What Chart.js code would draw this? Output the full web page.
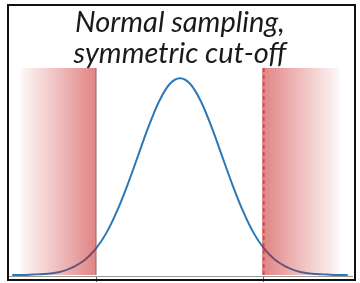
<!DOCTYPE html>
<html>
<head>
<meta charset="utf-8">
<script src="https://cdn.jsdelivr.net/npm/chart.js@4"></script>
<style>
    html, body { margin: 0; padding: 0; background: #fff; }
    #chart { display: block; }
</style>
</head>
<body>
<canvas id="chart" width="360" height="283"></canvas>
<script>
// Datos
const titleLines = ["Normal sampling,", "symmetric cut-off"];
const xValues = [-4, -3.75, -3.5, -3.25, -3, -2.75, -2.5, -2.25, -2, -1.75, -1.5, -1.25, -1, -0.75, -0.5, -0.25,
    0, 0.25, 0.5, 0.75, 1, 1.25, 1.5, 1.75, 2, 2.25, 2.5, 2.75, 3, 3.25, 3.5, 3.75, 4];
const density = [0.000, 0.000, 0.001, 0.002, 0.004, 0.009, 0.018, 0.032, 0.054, 0.086, 0.130, 0.183, 0.242, 0.301, 0.352, 0.387,
    0.399, 0.387, 0.352, 0.301, 0.242, 0.183, 0.130, 0.086, 0.054, 0.032, 0.018, 0.009, 0.004, 0.002, 0.001, 0.000, 0.000];
const cutoffs = [-2, 2];
const leftBand = [-3.8, -2];
const rightBand = [1.95, 3.8];
const bandTop = 0.42;

const RED_SOLID = "rgba(200, 30, 30, 0.55)";
const RED_CLEAR = "rgba(200, 30, 30, 0.03)";

// Degradado horizontal: casi transparente en "from", rojo en "to"
function bandGradient(ctx, from, to) {
    const chart = ctx.chart;
    const x = chart.scales && chart.scales.x;
    if (!chart.chartArea || !x) return RED_SOLID;
    const g = chart.ctx.createLinearGradient(x.getPixelForValue(from), 0, x.getPixelForValue(to), 0);
    g.addColorStop(0, RED_CLEAR);
    g.addColorStop(1, RED_SOLID);
    return g;
}

const framePlugin = {
    id: "frame",
    afterDraw(chart) {
        const c = chart.ctx;
        c.save();
        // Título superpuesto al área del gráfico
        c.fillStyle = "#1a1a1a";
        c.font = "italic 29px Lato";
        c.textAlign = "center";
        c.textBaseline = "alphabetic";
        c.fillText(titleLines[0], 180, 32);
        c.fillText(titleLines[1], 180, 63);
        // Marco negro
        c.strokeStyle = "#111";
        c.lineWidth = 2;
        c.strokeRect(8, 5, 347, 275);
        c.restore();
    },
};

new Chart(document.getElementById("chart"), {
    type: "line",
    data: {
        datasets: [
            {
                // banda izquierda
                data: leftBand.map((v) => ({ x: v, y: bandTop })),
                borderWidth: 0,
                pointRadius: 0,
                fill: "origin",
                backgroundColor: (ctx) => bandGradient(ctx, leftBand[0], leftBand[1]),
                order: 0,
            },
            {
                // banda derecha
                data: rightBand.map((v) => ({ x: v, y: bandTop })),
                borderWidth: 0,
                pointRadius: 0,
                fill: "origin",
                backgroundColor: (ctx) => bandGradient(ctx, rightBand[1], rightBand[0]),
                order: 0,
            },
            {
                // corte izquierdo (sólido)
                data: [{ x: cutoffs[0], y: 0 }, { x: cutoffs[0], y: bandTop }],
                borderColor: "rgba(130, 60, 60, 0.7)",
                borderWidth: 1,
                pointRadius: 0,
                fill: false,
                order: 0,
            },
            {
                // corte derecho (discontinuo)
                data: [{ x: cutoffs[1], y: 0 }, { x: cutoffs[1], y: bandTop }],
                borderColor: "rgba(150, 40, 55, 0.9)",
                borderWidth: 1,
                borderDash: [4, 3],
                pointRadius: 0,
                fill: false,
                order: 0,
            },
            {
                // curva normal
                data: xValues.map((v, i) => ({ x: v, y: density[i] })),
                borderColor: "#2a78b8",
                borderWidth: 2,
                pointRadius: 0,
                cubicInterpolationMode: "monotone",
                fill: false,
                order: 1,
            },
        ],
    },
    options: {
        responsive: false,
        animation: false,
        devicePixelRatio: 1,
        layout: { padding: { left: 8, right: 8, top: 68, bottom: 1 } },
        plugins: { legend: { display: false }, tooltip: { enabled: false }, title: { display: false } },
        scales: {
            x: {
                type: "linear",
                min: -4.1,
                max: 4.1,
                afterBuildTicks: (scale) => {
                    scale.ticks = cutoffs.map((v) => ({ value: v }));
                },
                ticks: { display: false },
                grid: { drawOnChartArea: false, drawTicks: true, tickLength: 6, color: "#666" },
                border: { color: "#999", width: 1 },
            },
            y: {
                display: false,
                min: -0.002,
                max: bandTop,
            },
        },
    },
    plugins: [framePlugin],
});
</script>
</body>
</html>
